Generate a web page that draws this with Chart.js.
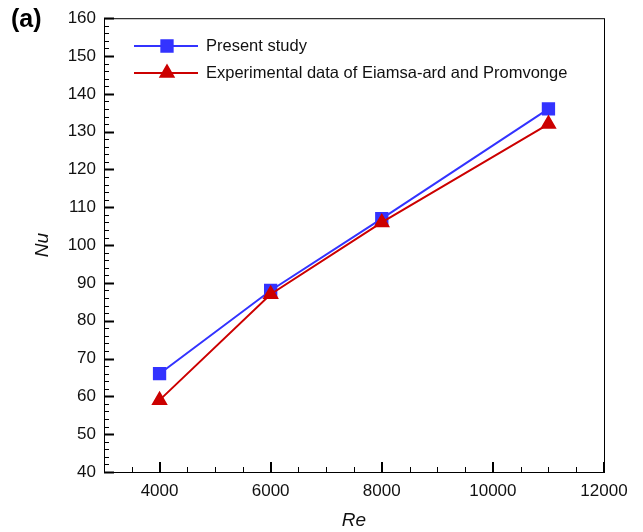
<!DOCTYPE html>
<html>
<head>
<meta charset="utf-8">
<script src="https://cdn.jsdelivr.net/npm/chart.js@4.4.1/dist/chart.umd.min.js"></script>
<style>
  html, body { margin: 0; padding: 0; background: #fff; }
  #wrap { width: 643px; height: 532px; }
</style>
</head>
<body>
<div id="wrap"><canvas id="nu_chart" width="643" height="532"></canvas></div>
<script>
// Reynolds numbers and Nusselt numbers for the two series
const re_values = [4000, 6000, 8000, 11000];
const nu_present = [66, 88, 107, 136];
const nu_experiment = [59, 87, 106, 132];

const series_labels = ["Present study", "Experimental data of Eiamsa-ard and Promvonge"];
const x_ticks = [4000, 6000, 8000, 10000, 12000];
const y_ticks = [40, 50, 60, 70, 80, 90, 100, 110, 120, 130, 140, 150, 160];

const FONT = "'Liberation Sans', Arial, Helvetica, sans-serif";

function to_points(xs, ys){
    let pts = [];
    for(let i=0;i<xs.length;i++){
        pts.push({x: xs[i], y: ys[i]});
    }
    return pts;
}

// box around the plot, inward major/minor ticks, legend and the panel tag
const frame_plugin = {
    id: 'frame',
    afterDraw(chart){
        const ctx = chart.ctx;
        const a = chart.chartArea;
        const xs = chart.scales.x;
        const ys = chart.scales.y;
        ctx.save();
        ctx.strokeStyle = '#000';
        ctx.lineWidth = 1;
        ctx.strokeRect(a.left + 0.5, a.top + 0.5, a.right - a.left, a.bottom - a.top);

        ctx.beginPath();
        // x ticks: major every 2000, minor every 500
        for(let v=3000; v<=12000; v+=500){
            let px = Math.round(xs.getPixelForValue(v)) + 0.5;
            let len = (v % 2000 == 0) ? 10 : 5;
            ctx.moveTo(px, a.bottom);
            ctx.lineTo(px, a.bottom - len);
        }
        // y ticks: major every 10, minor every 2
        for(let v=40; v<=160; v+=2){
            let py = Math.round(ys.getPixelForValue(v)) + 0.5;
            let len = (v % 10 == 0) ? 10 : 5;
            ctx.moveTo(a.left, py);
            ctx.lineTo(a.left + len, py);
        }
        ctx.stroke();

        // heavier major ticks
        ctx.lineWidth = 2;
        ctx.beginPath();
        for(const v of x_ticks){
            let px = Math.round(xs.getPixelForValue(v));
            ctx.moveTo(px, a.bottom);
            ctx.lineTo(px, a.bottom - 10);
        }
        for(const v of y_ticks){
            let py = Math.round(ys.getPixelForValue(v)) + 0.5;
            ctx.moveTo(a.left, py);
            ctx.lineTo(a.left + 10, py);
        }
        ctx.stroke();

        // legend
        const rows = [46, 73];
        chart.data.datasets.forEach(function(ds, i){
            let y = rows[i];
            ctx.strokeStyle = ds.borderColor;
            ctx.lineWidth = 2;
            ctx.beginPath();
            ctx.moveTo(134, y);
            ctx.lineTo(198, y);
            ctx.stroke();
            Chart.helpers.drawPoint(ctx, {
                pointStyle: ds.pointStyle,
                radius: ds.pointRadius,
                borderWidth: 1
            }, 167, y);
            ctx.fillStyle = ds.pointBackgroundColor;
            ctx.strokeStyle = ds.pointBackgroundColor;
            ctx.fill();
            ctx.fillStyle = '#111';
            ctx.font = "16.5px " + FONT;
            ctx.textBaseline = 'middle';
            ctx.textAlign = 'left';
            ctx.fillText(ds.label, 206, y);
        });

        ctx.fillStyle = '#000';
        ctx.font = "bold 25px " + FONT;
        ctx.textBaseline = 'top';
        ctx.fillText("(a)", 11, 8);
        ctx.restore();
    }
};

const chart_canvas = document.getElementById('nu_chart');
const nu_chart = new Chart(chart_canvas, {
    type: 'scatter',
    data: {
        datasets: [
            {
                label: series_labels[0],
                data: to_points(re_values, nu_present),
                showLine: true,
                borderColor: '#3333ff',
                backgroundColor: '#3333ff',
                pointBackgroundColor: '#3333ff',
                pointBorderColor: '#3333ff',
                pointStyle: 'rect',
                pointRadius: 8,
                borderWidth: 2,
                order: 2
            },
            {
                label: series_labels[1],
                data: to_points(re_values, nu_experiment),
                showLine: true,
                borderColor: '#cc0000',
                backgroundColor: '#cc0000',
                pointBackgroundColor: '#cc0000',
                pointBorderColor: '#cc0000',
                pointStyle: 'triangle',
                pointRadius: 7.5,
                borderWidth: 2,
                order: 1
            }
        ]
    },
    options: {
        responsive: false,
        animation: false,
        layout: {
            padding: {left: 0, top: 18, right: 39, bottom: 0}
        },
        plugins: {
            legend: {display: false},
            tooltip: {enabled: false}
        },
        scales: {
            x: {
                type: 'linear',
                min: 3000,
                max: 12000,
                afterBuildTicks: function(scale){
                    scale.ticks = x_ticks.map(v => ({value: v}));
                },
                afterFit: function(scale){ scale.height = 60; },
                grid: {display: false, drawTicks: false},
                border: {display: false},
                ticks: {
                    color: '#111',
                    padding: 9,
                    maxRotation: 0,
                    callback: v => String(v),
                    font: {family: FONT, size: 17}
                },
                title: {
                    display: true,
                    text: 'Re',
                    color: '#111',
                    padding: {top: 2, bottom: 0},
                    font: {family: FONT, size: 19, style: 'italic'}
                }
            },
            y: {
                type: 'linear',
                min: 40,
                max: 160,
                afterBuildTicks: function(scale){
                    scale.ticks = y_ticks.map(v => ({value: v}));
                },
                afterFit: function(scale){ scale.width = 104; },
                grid: {display: false, drawTicks: false},
                border: {display: false},
                ticks: {
                    color: '#111',
                    padding: 8,
                    callback: v => String(v),
                    font: {family: FONT, size: 17}
                },
                title: {
                    display: true,
                    text: 'Nu',
                    color: '#111',
                    padding: {top: 31, bottom: 0},
                    font: {family: FONT, size: 19, style: 'italic'}
                }
            }
        }
    },
    plugins: [frame_plugin]
});
</script>
</body>
</html>
